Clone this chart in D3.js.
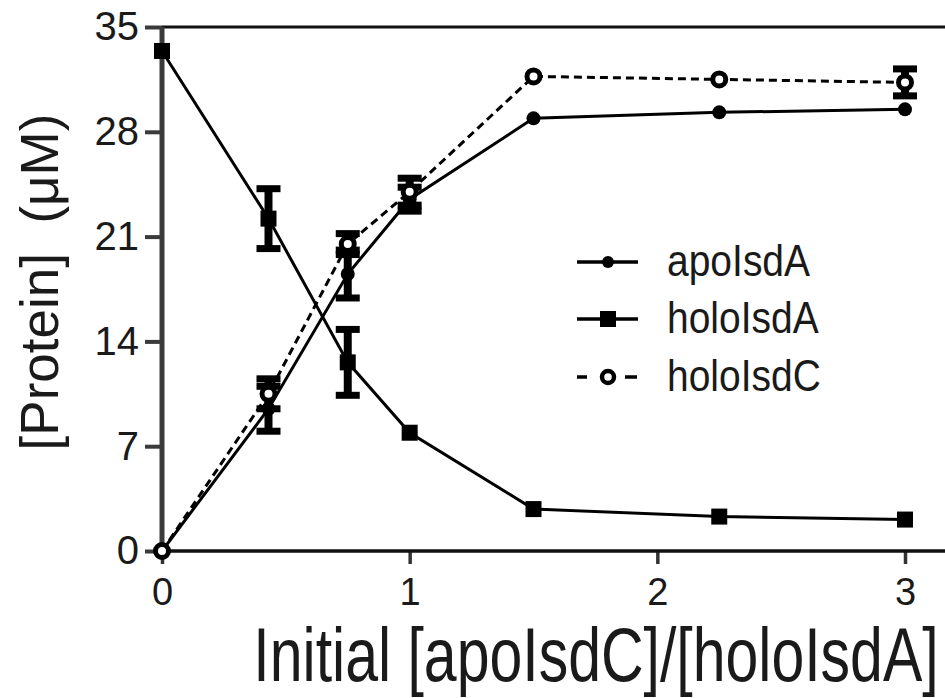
<!DOCTYPE html>
<meta charset="utf-8" />
<html>
<head>
  <style>
    body { margin: 0; background: #fff; }
    svg text { font-family: "Liberation Sans", Arial, sans-serif; fill: #1a1a1a; }
  </style>
  <script src="https://d3js.org/d3.v7.min.js"></script>
</head>
<body>
  <svg id="chart"></svg>
  <script>
    // data
    const ratios = [0, 0.43, 0.75, 1, 1.5, 2.25, 3];
    const apoIsdA = [0, 9.5, 18.5, 23.5, 28.9, 29.3, 29.5];
    const apoIsdAErr = [0, 1.5, 1.6, 0.8, 0, 0, 0];
    const holoIsdA = [33.4, 22.2, 12.6, 7.9, 2.8, 2.3, 2.1];
    const holoIsdAErr = [0, 2.0, 2.2, 0, 0, 0, 0];
    const holoIsdC = [0, 10.5, 20.5, 24.0, 31.7, 31.5, 31.3];
    const holoIsdCErr = [0, 1.0, 0.7, 0.9, 0, 0, 0.9];
    const xTicks = [0, 1, 2, 3];
    const yTicks = [0, 7, 14, 21, 28, 35];
    const seriesNames = ["apoIsdA", "holoIsdA", "holoIsdC"];

    const W = 945, H = 698;
    const plotLeft = 162, plotTop = 27, plotBottom = 551;

    const svg = d3.select("#chart").attr("width", W).attr("height", H);

    const x = d3.scaleLinear().domain([0, 3]).range([plotLeft, 905]);
    const y = d3.scaleLinear().domain([0, 35]).range([plotBottom, plotTop]);

    // top frame line
    svg.append("line")
      .attr("x1", plotLeft).attr("x2", W)
      .attr("y1", y(35)).attr("y2", y(35))
      .attr("stroke", "#111").attr("stroke-width", 3);

    // x axis
    const gx = svg.append("g")
      .attr("transform", `translate(0,${plotBottom})`)
      .call(d3.axisBottom(x).tickValues(xTicks).tickSize(13).tickPadding(14).tickFormat(d3.format("d")));
    gx.select(".domain").remove();
    gx.append("line").attr("x1", plotLeft).attr("x2", W)
      .attr("stroke", "#111").attr("stroke-width", 3.5);
    gx.selectAll(".tick line").attr("stroke", "#333").attr("stroke-width", 3.5);
    gx.selectAll(".tick text").attr("font-size", 38).attr("fill", "#1a1a1a");

    // y axis
    const gy = svg.append("g")
      .attr("transform", `translate(${plotLeft},0)`)
      .call(d3.axisLeft(y).tickValues(yTicks).tickSize(17).tickPadding(6));
    gy.select(".domain").remove();
    gy.append("line").attr("y1", y(35)).attr("y2", y(0) + 2)
      .attr("stroke", "#3a3a3a").attr("stroke-width", 5);
    gy.selectAll(".tick line").attr("stroke", "#3a3a3a").attr("stroke-width", 4);
    gy.selectAll(".tick text").attr("font-size", 40).attr("fill", "#1a1a1a");

    // axis titles (glyphs in the figure are slightly tall and narrow)
    svg.append("text")
      .attr("transform", "translate(596,681) scale(1,1.28)")
      .attr("text-anchor", "middle")
      .attr("font-size", 59)
      .text("Initial [apoIsdC]/[holoIsdA]");

    svg.append("text")
      .attr("transform", "translate(58,282) rotate(-90)")
      .attr("text-anchor", "middle")
      .attr("font-size", 53)
      .attr("xml:space", "preserve")
      .text("[Protein]  (\u03bcM)");

    const line = d3.line().x((d, i) => x(ratios[i])).y(d => y(d));

    function errorBars(vals, errs) {
      const g = svg.append("g").attr("stroke", "#000");
      ratios.forEach((r, i) => {
        if (!errs[i]) return;
        const cx = x(r);
        g.append("line").attr("x1", cx).attr("x2", cx)
          .attr("y1", y(vals[i] + errs[i])).attr("y2", y(vals[i] - errs[i]))
          .attr("stroke-width", 8);
        [vals[i] + errs[i], vals[i] - errs[i]].forEach(v => {
          g.append("line").attr("x1", cx - 12).attr("x2", cx + 12)
            .attr("y1", y(v)).attr("y2", y(v)).attr("stroke-width", 7);
        });
      });
    }

    // holoIsdA: solid line, squares
    svg.append("path").datum(holoIsdA).attr("d", line)
      .attr("fill", "none").attr("stroke", "#000").attr("stroke-width", 3);
    errorBars(holoIsdA, holoIsdAErr);
    svg.append("g").selectAll("rect").data(holoIsdA).join("rect")
      .attr("x", (d, i) => x(ratios[i]) - 8).attr("y", d => y(d) - 8)
      .attr("width", 16).attr("height", 16).attr("fill", "#000");

    // apoIsdA: solid line, filled circles
    svg.append("path").datum(apoIsdA).attr("d", line)
      .attr("fill", "none").attr("stroke", "#000").attr("stroke-width", 3);
    errorBars(apoIsdA, apoIsdAErr);
    svg.append("g").selectAll("circle").data(apoIsdA).join("circle")
      .attr("cx", (d, i) => x(ratios[i])).attr("cy", d => y(d))
      .attr("r", 7).attr("fill", "#000");

    // holoIsdC: dashed line, open circles
    svg.append("path").datum(holoIsdC).attr("d", line)
      .attr("fill", "none").attr("stroke", "#000").attr("stroke-width", 3)
      .attr("stroke-dasharray", "8,5");
    errorBars(holoIsdC, holoIsdCErr);
    svg.append("g").selectAll("circle").data(holoIsdC).join("circle")
      .attr("cx", (d, i) => x(ratios[i])).attr("cy", d => y(d))
      .attr("r", 6.5).attr("fill", "#fff").attr("stroke", "#000").attr("stroke-width", 5);

    // legend
    const legend = svg.append("g");
    const legY = [262, 319, 377];
    seriesNames.forEach((name, i) => {
      const g = legend.append("g").attr("transform", `translate(0,${legY[i]})`);
      g.append("line").attr("x1", 577).attr("x2", 638)
        .attr("stroke", "#000").attr("stroke-width", 3.5)
        .attr("stroke-dasharray", i === 2 ? "10,38,12" : null);
      if (i === 0) g.append("circle").attr("cx", 608).attr("r", 6).attr("fill", "#000");
      if (i === 1) g.append("rect").attr("x", 600).attr("y", -8).attr("width", 16).attr("height", 16).attr("fill", "#000");
      if (i === 2) g.append("circle").attr("cx", 608).attr("r", 6).attr("fill", "#fff")
        .attr("stroke", "#000").attr("stroke-width", 4.5);
      g.append("text").attr("transform", "translate(667,14) scale(1,1.12)")
        .attr("font-size", 39).text(name);
    });
  </script>
</body>
</html>
